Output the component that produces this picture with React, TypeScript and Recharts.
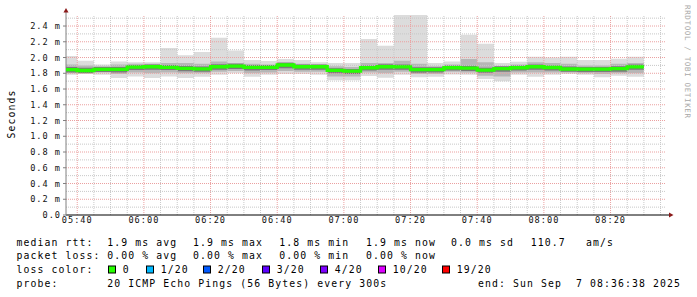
import React from 'react';
import { ComposedChart, Area, Line, XAxis, YAxis, ReferenceLine, ReferenceDot } from 'recharts';

// 5 minute rrd steps; the window starts at 05:36:38 so the first step is partial
const edges = [
  '05:36:38', '05:40', '05:45', '05:50', '05:55', '06:00', '06:05', '06:10', '06:15',
  '06:20', '06:25', '06:30', '06:35', '06:40', '06:45', '06:50', '06:55', '07:00',
  '07:05', '07:10', '07:15', '07:20', '07:25', '07:30', '07:35', '07:40', '07:45',
  '07:50', '07:55', '08:00', '08:05', '08:10', '08:15', '08:20', '08:25', '08:30',
];
const windowStart = '05:36:38';
const windowEnd = '08:36:38';
const xTickLabels = ['05:40', '06:00', '06:20', '06:40', '07:00', '07:20', '07:40', '08:00', '08:20'];
const yTicks = [0, 0.2, 0.4, 0.6, 0.8, 1.0, 1.2, 1.4, 1.6, 1.8, 2.0, 2.2, 2.4];

// rtt in ms, one value per step
const medianMs = [
  1.845, 1.835, 1.85, 1.85, 1.877, 1.883, 1.875, 1.862, 1.855, 1.883, 1.89, 1.874,
  1.875, 1.905, 1.883, 1.883, 1.837, 1.826, 1.87, 1.883, 1.88, 1.845, 1.845, 1.87,
  1.866, 1.84, 1.858, 1.87, 1.883, 1.873, 1.854, 1.852, 1.852, 1.858, 1.88,
];
const maxMs = [
  2.02, 1.96, 1.91, 1.95, 1.94, 1.94, 2.12, 2.03, 2.07, 2.25, 2.09, 1.97,
  1.955, 1.98, 1.97, 1.94, 1.93, 1.93, 2.235, 2.15, 2.54, 2.54, 1.93, 1.95,
  2.29, 2.175, 1.93, 1.945, 2.01, 2.0, 2.01, 1.97, 1.97, 1.985, 2.01,
];
const minMs = [
  1.78, 1.79, 1.78, 1.74, 1.76, 1.74, 1.76, 1.74, 1.756, 1.78, 1.8, 1.756,
  1.78, 1.79, 1.79, 1.78, 1.71, 1.71, 1.765, 1.744, 1.78, 1.75, 1.756, 1.785,
  1.78, 1.727, 1.7, 1.78, 1.756, 1.78, 1.79, 1.78, 1.75, 1.77, 1.756,
];
const hiMid = [
  1.91, 1.9, 1.89, 1.91, 1.92, 1.92, 1.93, 1.93, 1.92, 1.95, 1.93, 1.92,
  1.91, 1.94, 1.92, 1.91, 1.89, 1.88, 1.93, 1.93, 1.96, 1.92, 1.89, 1.91,
  1.98, 1.94, 1.89, 1.91, 1.94, 1.93, 1.92, 1.9, 1.9, 1.92, 1.93,
];
const loMid = [
  1.8, 1.81, 1.81, 1.79, 1.81, 1.8, 1.81, 1.8, 1.8, 1.82, 1.83, 1.8,
  1.81, 1.83, 1.82, 1.82, 1.76, 1.76, 1.81, 1.8, 1.82, 1.79, 1.79, 1.82,
  1.81, 1.77, 1.76, 1.81, 1.81, 1.81, 1.81, 1.8, 1.79, 1.8, 1.8,
];
const hiCore = [
  1.88, 1.87, 1.88, 1.88, 1.905, 1.91, 1.905, 1.895, 1.885, 1.915, 1.92, 1.905,
  1.905, 1.935, 1.91, 1.91, 1.865, 1.855, 1.9, 1.915, 1.91, 1.875, 1.875, 1.9,
  1.895, 1.87, 1.89, 1.9, 1.91, 1.9, 1.885, 1.88, 1.88, 1.89, 1.91,
];
const loCore = [
  1.81, 1.8, 1.815, 1.81, 1.84, 1.845, 1.84, 1.825, 1.82, 1.845, 1.855, 1.835,
  1.84, 1.865, 1.845, 1.845, 1.8, 1.79, 1.835, 1.845, 1.845, 1.805, 1.81, 1.835,
  1.83, 1.805, 1.82, 1.835, 1.845, 1.835, 1.82, 1.815, 1.815, 1.82, 1.845,
];

// legend texts
const rttStats = ['1.9 ms avg', '1.9 ms max', '1.8 ms min', '1.9 ms now', '0.0 ms sd', '110.7', 'am/s'];
const lossStats = ['0.00 % avg', '0.00 % max', '0.00 % min', '0.00 % now'];
const lossLevels = ['0', '1/20', '2/20', '3/20', '4/20', '10/20', '19/20'];
const lossColors = ['#26ff00', '#00b8ff', '#0059ff', '#5e00ff', '#7e00ff', '#dd00ff', '#ff0000'];
const probeText = '20 ICMP Echo Pings (56 Bytes) every 300s';
const endText = 'end: Sun Sep  7 08:36:38 2025';

const toMin = (s: string) => {
  const [h, m, sec] = s.split(':').map(Number);
  return h * 60 + m + (sec || 0) / 60;
};
const fmtTime = (v: number) => {
  const h = Math.floor(v / 60);
  const m = Math.round(v - h * 60);
  return `${String(h).padStart(2, '0')}:${String(m).padStart(2, '0')}`;
};

const last = medianMs.length - 1;
const rows = edges.map((e, i) => {
  const k = Math.min(i, last);
  return {
    t: toMin(e),
    outer: [minMs[k], maxMs[k]],
    mid: [loMid[k], hiMid[k]],
    core: [loCore[k], hiCore[k]],
    med: medianMs[k],
  };
});

const xMin = toMin(windowStart);
const xMax = toMin(windowEnd);
const yMax = 2.54;

// grid: minor every 5 min / 0.1 ms, major every 20 min / 0.2 ms
const vGrid: number[] = [];
for (let m = 340; m < xMax; m += 5) vGrid.push(m);
const hGrid: number[] = [];
for (let i = 1; i <= 25; i++) hGrid.push(i / 10);

const mono = 'DejaVu Sans Mono';
const minorColor = '#c8c8c8';
const majorColor = '#eba0a0';
const arrowColor = '#8b1a1a';

// legend x positions (rrdtool lays each item out on its own)
const statX = [107.3, 193, 279.3, 366, 451, 530.7, 586];
const boxX = [108, 146, 203, 262, 320, 378, 442];

const textStyle = { fontFamily: mono, fontSize: 9.8, letterSpacing: 1.1, whiteSpace: 'pre' as const };

export default function App() {
  return (
    <div style={{ position: 'absolute', left: 0, top: 0, width: 697, height: 297, background: '#fff' }}>
      <ComposedChart width={697} height={297} data={rows} margin={{ top: 15, right: 31, bottom: 62, left: 0 }}>
        <XAxis
          type="number"
          dataKey="t"
          domain={[xMin, xMax]}
          ticks={xTickLabels.map(toMin)}
          tickFormatter={fmtTime}
          height={20}
          tickLine={false}
          tickSize={0}
          tickMargin={2}
          axisLine={{ stroke: '#000' }}
          tick={{ fill: '#111', fontSize: 8.6, fontFamily: mono, letterSpacing: 1 }}
          allowDataOverflow
        />
        <YAxis
          type="number"
          domain={[0, yMax]}
          ticks={yTicks}
          tickFormatter={(v: number) => (v === 0 ? '0.0' : `${v.toFixed(1)} m`)}
          width={66}
          tickSize={3}
          tickMargin={2}
          axisLine={{ stroke: '#808080' }}
          tickLine={{ stroke: '#808080' }}
          tick={{ fill: '#111', fontSize: 8.6, fontFamily: mono, letterSpacing: 1 }}
          allowDataOverflow
        />
        <Area type="stepAfter" dataKey="outer" stroke="none" fill="#dcdcdc" fillOpacity={1} isAnimationActive={false} dot={false} activeDot={false} />
        <Area type="stepAfter" dataKey="mid" stroke="none" fill="#b6b6b6" fillOpacity={1} isAnimationActive={false} dot={false} activeDot={false} />
        <Area type="stepAfter" dataKey="core" stroke="none" fill="#7a7a7a" fillOpacity={1} isAnimationActive={false} dot={false} activeDot={false} />
        {vGrid.map((m) => (
          <ReferenceLine key={'v' + m} x={m} stroke={m % 20 === 0 ? majorColor : minorColor} strokeDasharray="1 1" zIndex={450} />
        ))}
        {hGrid.map((v, i) => (
          <ReferenceLine key={'h' + i} y={v} stroke={i % 2 === 1 ? majorColor : minorColor} strokeDasharray="1 1" zIndex={450} />
        ))}
        <Line type="stepAfter" dataKey="med" stroke="#26ff00" strokeWidth={3.3} dot={false} activeDot={false} isAnimationActive={false} zIndex={500} />
        <ReferenceDot
          x={xMin}
          y={yMax}
          r={0}
          ifOverflow="visible"
          zIndex={600}
          shape={(p: any) => (
            <g>
              <line x1={p.cx} x2={p.cx} y1={p.cy} y2={p.cy - 3} stroke="#808080" />
              <path d={`M${p.cx - 2.5},${p.cy - 2.5} L${p.cx + 2.5},${p.cy - 2.5} L${p.cx},${p.cy - 7} Z`} fill={arrowColor} />
            </g>
          )}
        />
        <ReferenceDot
          x={xMax}
          y={0}
          r={0}
          ifOverflow="visible"
          zIndex={600}
          shape={(p: any) => (
            <g>
              <line x1={p.cx} x2={p.cx + 3} y1={p.cy} y2={p.cy} stroke="#000" />
              <path d={`M${p.cx + 3},${p.cy - 2.5} L${p.cx + 3},${p.cy + 2.5} L${p.cx + 7.5},${p.cy} Z`} fill={arrowColor} />
            </g>
          )}
        />
      </ComposedChart>

      <svg width={697} height={297} style={{ position: 'absolute', left: 0, top: 0, pointerEvents: 'none' }}>
        <text transform="translate(15.3,114) rotate(-90)" textAnchor="middle" fill="#000" style={textStyle}>Seconds</text>
        <text
          transform="translate(685,5) rotate(90)"
          fill="#a8a8a8"
          style={{ fontFamily: mono, fontSize: 7.5, letterSpacing: 0.65, whiteSpace: 'pre' }}
        >
          RRDTOOL / TOBI OETIKER
        </text>

        <text x={16.5} y={245.5} fill="#000" style={textStyle}>median rtt:</text>
        {rttStats.map((s, i) => (
          <text key={'r' + i} x={statX[i]} y={245.5} fill="#000" style={textStyle}>{s}</text>
        ))}

        <text x={16.5} y={259} fill="#000" style={textStyle}>packet loss:</text>
        {lossStats.map((s, i) => (
          <text key={'l' + i} x={statX[i]} y={259} fill="#000" style={textStyle}>{s}</text>
        ))}

        <text x={16.5} y={273} fill="#000" style={textStyle}>loss color:</text>
        {lossLevels.map((s, i) => (
          <g key={'c' + i}>
            <rect x={boxX[i] + 0.5} y={266} width={7} height={7} fill={lossColors[i]} stroke="#000" strokeWidth={1} />
            <text x={boxX[i] + 14.7} y={273} fill="#000" style={textStyle}>{s}</text>
          </g>
        ))}

        <text x={16.5} y={286.5} fill="#000" style={textStyle}>probe:</text>
        <text x={107.3} y={286.5} fill="#000" style={textStyle}>{probeText}</text>
        <text x={478} y={286.5} fill="#000" style={textStyle}>{endText}</text>
      </svg>
    </div>
  );
}
